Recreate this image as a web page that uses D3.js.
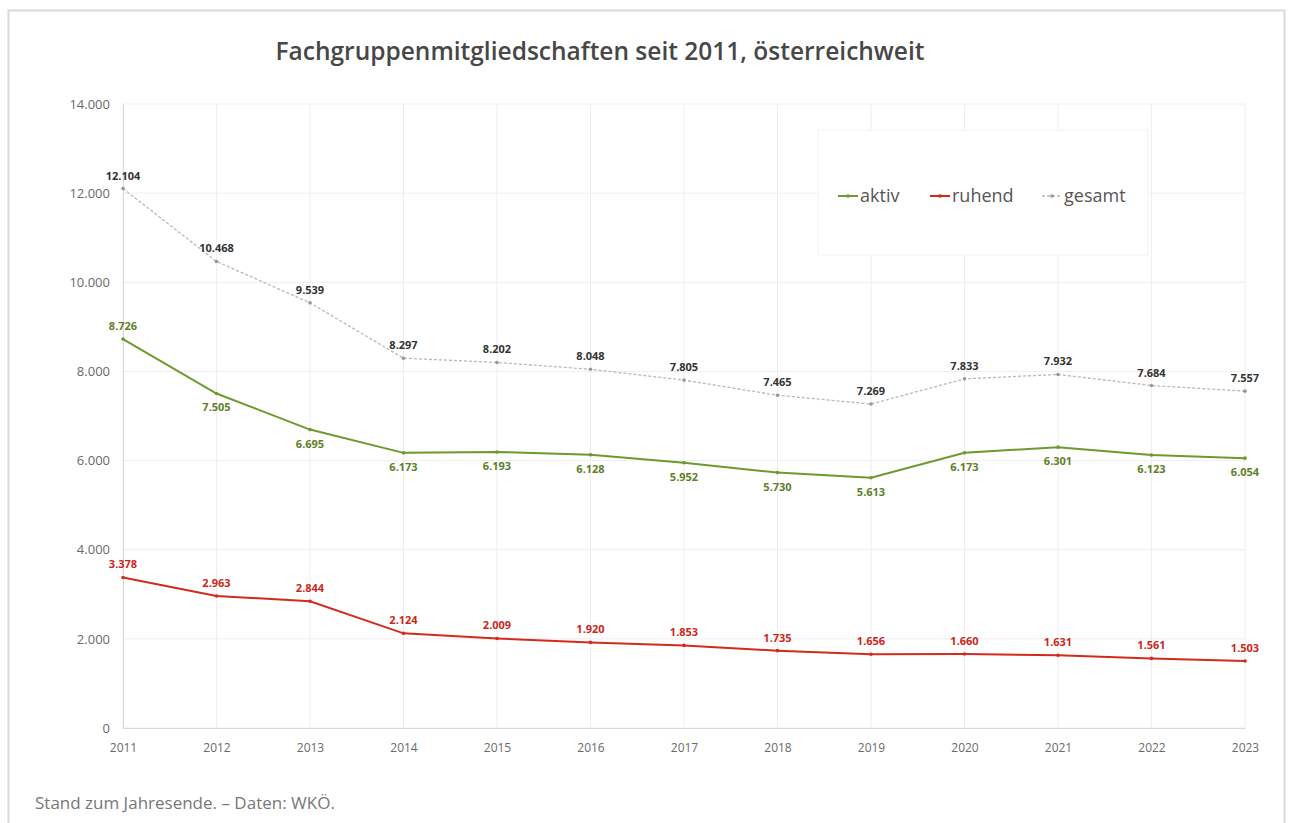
<!DOCTYPE html>
<html>
<head>
<meta charset="utf-8">
<script src="https://cdn.jsdelivr.net/npm/d3@7"></script>
<style>
  body { margin: 0; background: #fff; }
  svg { display: block; font-family: "Open Sans", Lato, sans-serif; }
</style>
</head>
<body>
<div id="chart"></div>
<script>
const years   = [2011, 2012, 2013, 2014, 2015, 2016, 2017, 2018, 2019, 2020, 2021, 2022, 2023];
const gesamt  = [12104, 10468, 9539, 8297, 8202, 8048, 7805, 7465, 7269, 7833, 7932, 7684, 7557];
const aktiv   = [8726, 7505, 6695, 6173, 6193, 6128, 5952, 5730, 5613, 6173, 6301, 6123, 6054];
const ruhend  = [3378, 2963, 2844, 2124, 2009, 1920, 1853, 1735, 1656, 1660, 1631, 1561, 1503];
const yTicks  = [0, 2000, 4000, 6000, 8000, 10000, 12000, 14000];

const W = 1293, H = 823;
const margin = { top: 104, right: 48, bottom: 95, left: 123 };
const width = W - margin.left - margin.right;
const height = H - margin.top - margin.bottom;

const de = d3.formatLocale({ decimal: ",", thousands: ".", grouping: [3], currency: ["", " €"] });
const fmt = de.format(",");

const svg = d3.select("#chart").append("svg")
  .attr("width", W).attr("height", H);

// outer frame
svg.append("rect")
  .attr("x", 8.5).attr("y", 10.5).attr("width", W - 17).attr("height", H)
  .attr("fill", "#fff").attr("stroke", "#d9d9d9").attr("stroke-width", 2);

svg.append("text")
  .attr("x", 600).attr("y", 60)
  .attr("text-anchor", "middle")
  .attr("font-size", 24.5).attr("font-weight", 600).attr("fill", "#474747")
  .text("Fachgruppenmitgliedschaften seit 2011, österreichweit");

const g = svg.append("g").attr("transform", `translate(${margin.left},${margin.top})`);

const x = d3.scalePoint().domain(years).range([0, width]);
const y = d3.scaleLinear().domain([0, 14000]).range([height, 0]);

// grid
g.append("g").selectAll("line.h")
  .data(yTicks).enter().append("line")
  .attr("x1", 0).attr("x2", width)
  .attr("y1", d => y(d)).attr("y2", d => y(d))
  .attr("stroke", "#eeeeee");
g.append("g").selectAll("line.v")
  .data(years).enter().append("line")
  .attr("x1", d => x(d)).attr("x2", d => x(d))
  .attr("y1", 0).attr("y2", height)
  .attr("stroke", "#eeeeee");

const yAxis = g.append("g")
  .call(d3.axisLeft(y).tickValues(yTicks).tickFormat(fmt).tickSize(0).tickPadding(13));
yAxis.select(".domain").attr("stroke", "#d9d9d9");
yAxis.selectAll("text").attr("font-size", 13).attr("fill", "#6a6a6a").attr("font-family", "Open Sans");

const xAxis = g.append("g")
  .attr("transform", `translate(0,${height})`)
  .call(d3.axisBottom(x).tickSize(0).tickPadding(15));
xAxis.select(".domain").attr("stroke", "#d9d9d9");
xAxis.selectAll("text").attr("font-size", 12).attr("fill", "#6a6a6a").attr("font-family", "Open Sans");

const series = [
  { name: "aktiv",  values: aktiv,  color: "#6d9a2c", label: "#5f7f2a", width: 2,   dash: null,  below: true },
  { name: "ruhend", values: ruhend, color: "#d42a1c", label: "#c8281a", width: 2,   dash: null,  below: false },
  { name: "gesamt", values: gesamt, color: "#b8b8b8", label: "#333",    width: 1.3, dash: "3,2", below: false }
];

const line = d3.line().x((d, i) => x(years[i])).y(d => y(d));

series.forEach(s => {
  g.append("path")
    .datum(s.values)
    .attr("fill", "none")
    .attr("stroke", s.color)
    .attr("stroke-width", s.width)
    .attr("stroke-dasharray", s.dash)
    .attr("d", line);
  g.append("g").selectAll("circle")
    .data(s.values).enter().append("circle")
    .attr("cx", (d, i) => x(years[i]))
    .attr("cy", d => y(d))
    .attr("r", 1.8)
    .attr("fill", s.name === "gesamt" ? "#999" : s.color);
  g.append("g").selectAll("text")
    .data(s.values).enter().append("text")
    .attr("x", (d, i) => x(years[i]))
    .attr("y", (d, i) => (s.below && i > 0) ? y(d) + 18 : y(d) - 9)
    .attr("text-anchor", "middle")
    .attr("font-size", 11).attr("font-weight", "bold")
    .attr("fill", s.label)
    .text(d => fmt(d));
});

// legend
const legend = svg.append("g");
legend.append("rect")
  .attr("x", 818).attr("y", 130).attr("width", 330).attr("height", 125)
  .attr("fill", "#fff").attr("stroke", "#f3f3f3");
const legX = [838, 930, 1042];
series.forEach((s, i) => {
  const lg = legend.append("g").attr("transform", `translate(${legX[i]},196)`);
  lg.append("line").attr("x1", 0).attr("x2", 20).attr("y1", 0).attr("y2", 0)
    .attr("stroke", s.color).attr("stroke-width", s.width).attr("stroke-dasharray", s.dash);
  lg.append("circle").attr("cx", 10).attr("cy", 0).attr("r", 1.8)
    .attr("fill", s.name === "gesamt" ? "#999" : s.color);
  lg.append("text").attr("x", 22).attr("y", 6)
    .attr("font-size", 18).attr("fill", "#555")
    .text(s.name);
});

svg.append("text")
  .attr("x", 35).attr("y", 809)
  .attr("font-size", 17).attr("fill", "#777")
  .text("Stand zum Jahresende. – Daten: WKÖ.");
</script>
</body>
</html>
